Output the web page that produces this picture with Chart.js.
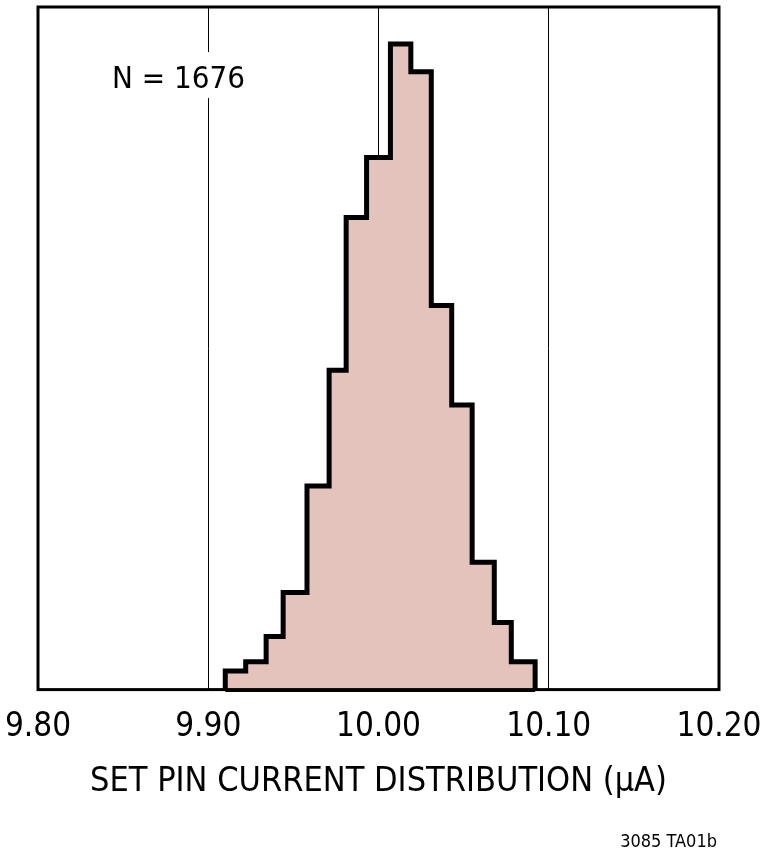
<!DOCTYPE html>
<html>
<head>
<meta charset="utf-8">
<script src="https://cdn.jsdelivr.net/npm/chart.js@4"></script>
<style>
  html, body { margin: 0; padding: 0; background: #fff; }
  #wrap { width: 760px; height: 853px; position: relative; }
</style>
</head>
<body>
<div id="wrap"><canvas id="chart"></canvas></div>
<script>
// histogram bins (µA) and counts
const binEdges = [9.910, 9.922, 9.934, 9.944, 9.958, 9.971, 9.981, 9.993,
                  10.007, 10.019, 10.031, 10.043, 10.055, 10.068, 10.078, 10.092];
const binCounts = [8, 12, 23, 42, 88, 138, 204, 230, 279, 267, 166, 123, 55, 29, 12];
const xTicks = [9.80, 9.90, 10.00, 10.10, 10.20];
const sampleLabel = 'N = 1676';
const xTitle = 'SET PIN CURRENT DISTRIBUTION (µA)';
const footNote = '3085 TA01b';

const FONT = "'Liberation Sans Narrow', 'DejaVu Sans Condensed', sans-serif";

// outline: each point is the right edge of a bin at that bin's count
// ('after' steps go up at the left edge, then across)
const outline = [{ x: binEdges[0], y: 0 }];
binCounts.forEach((c, i) => outline.push({ x: binEdges[i + 1], y: c }));
outline.push({ x: binEdges[binEdges.length - 1], y: 0 });

const baseLine = [
    { x: binEdges[0], y: 0 },
    { x: binEdges[binEdges.length - 1], y: 0 }
];

const frameAndNotes = {
    id: 'frameAndNotes',
    afterDatasetsDraw(chart) {
        const { ctx, chartArea: a } = chart;
        ctx.save();
        // sample size label, white box hides the grid line behind it
        ctx.fillStyle = '#fff';
        ctx.fillRect(a.left + 66, a.top + 45, 144, 46);
        ctx.fillStyle = '#000';
        ctx.font = '31px ' + FONT;
        ctx.textBaseline = 'alphabetic';
        ctx.textAlign = 'left';
        ctx.fillText(sampleLabel, a.left + 74, a.top + 81);
        // plot frame
        ctx.lineWidth = 3;
        ctx.strokeStyle = '#000';
        ctx.strokeRect(a.left, a.top, a.right - a.left, a.bottom - a.top);
        // figure id
        ctx.font = '18px ' + FONT;
        ctx.textAlign = 'right';
        ctx.fillText(footNote, 717, 847);
        ctx.restore();
    }
};

new Chart(document.getElementById('chart').getContext('2d'), {
    type: 'line',
    data: {
        datasets: [{
            data: outline,
            stepped: 'after',
            borderColor: '#000',
            borderWidth: 5,
            borderJoinStyle: 'miter',
            backgroundColor: '#e5c3bd',
            fill: 'origin',
            pointRadius: 0,
            clip: false
        }, {
            data: baseLine,
            borderColor: '#000',
            borderWidth: 5,
            fill: false,
            pointRadius: 0,
            clip: false
        }]
    },
    options: {
        responsive: true,
        maintainAspectRatio: false,
        animation: false,
        layout: { padding: { left: 38, right: 41, top: 7, bottom: 50 } },
        plugins: { legend: { display: false }, tooltip: { enabled: false } },
        scales: {
            x: {
                type: 'linear',
                min: 9.80,
                max: 10.20,
                afterBuildTicks(scale) {
                    scale.ticks = xTicks.map(v => ({ value: v }));
                },
                afterFit(scale) {
                    scale.paddingLeft = 0;
                    scale.paddingRight = 0;
                },
                ticks: {
                    color: '#000',
                    font: { family: FONT, size: 33 },
                    padding: 18,
                    maxRotation: 0,
                    callback: v => v.toFixed(2)
                },
                grid: {
                    drawTicks: false,
                    lineWidth: 1,
                    color: c => (c.index === 0 || c.index === xTicks.length - 1) ? 'rgba(0,0,0,0)' : '#000'
                },
                border: { display: false },
                title: {
                    display: true,
                    text: xTitle,
                    color: '#000',
                    font: { family: FONT, size: 34 },
                    padding: { top: -3, bottom: 0 }
                }
            },
            y: {
                display: false,
                min: 0,
                max: 295
            }
        }
    },
    plugins: [frameAndNotes]
});
</script>
</body>
</html>
